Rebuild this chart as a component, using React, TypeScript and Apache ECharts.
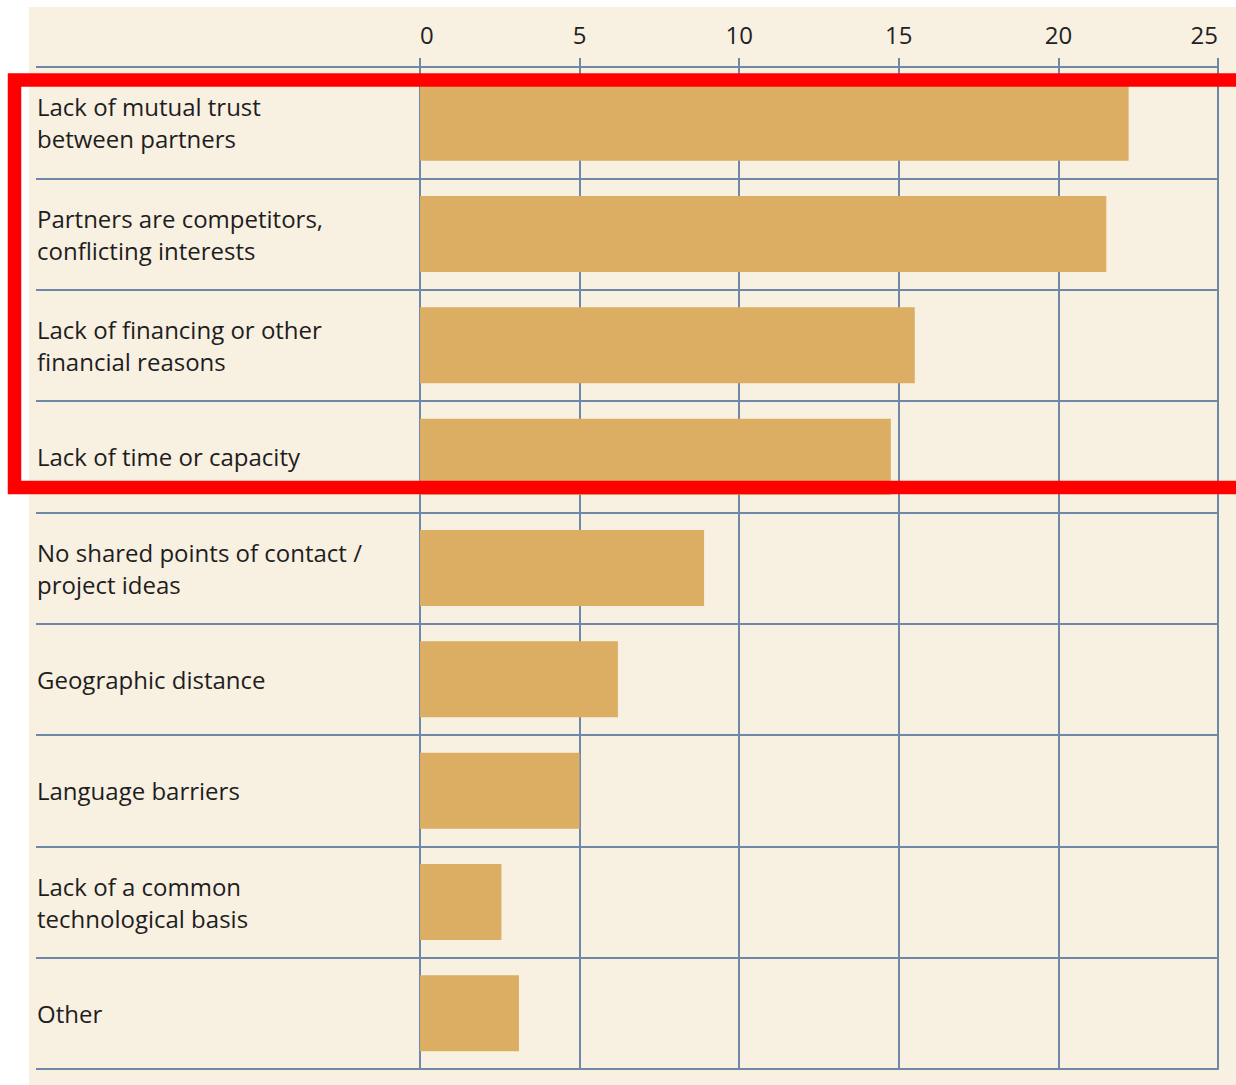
import React, { useEffect, useRef } from "react";
import * as echarts from "echarts";

const categories = [
  "Lack of mutual trust\nbetween partners",
  "Partners are competitors,\nconflicting interests",
  "Lack of financing or other\nfinancial reasons",
  "Lack of time or capacity",
  "No shared points of contact /\nproject ideas",
  "Geographic distance",
  "Language barriers",
  "Lack of a common\ntechnological basis",
  "Other",
];
const values = [22.2, 21.5, 15.5, 14.75, 8.9, 6.2, 5.0, 2.55, 3.1];
const axisMin = 0;
const axisMax = 25;
const axisStep = 5;

const FONT = "'Open Sans', 'Noto Sans', sans-serif";
const GRID_COLOR = "#6f88a8";
const BAR_COLOR = "#dbae63";
const BG = "#f8f0e1";

export default function App() {
  const ref = useRef<HTMLDivElement>(null);
  useEffect(() => {
    if (!ref.current) return;
    const chart = echarts.init(ref.current, undefined, { renderer: "svg" });
    const lineStyle = { color: GRID_COLOR, width: 2 };
    chart.setOption({
      animation: false,
      backgroundColor: "#ffffff",
      graphic: [
        {
          type: "rect",
          z: -10,
          silent: true,
          shape: { x: 29, y: 7, width: 1207, height: 1078 },
          style: { fill: BG },
        },
        {
          type: "rect",
          z: 100,
          silent: true,
          shape: { x: 14.5, y: 80, width: 1300, height: 407.5 },
          style: { fill: "none", stroke: "#ff0000", lineWidth: 13.5 },
        },
      ],
      grid: { left: 420, right: 18, top: 67, bottom: 16, containLabel: false },
      xAxis: [
        {
          type: "value",
          position: "top",
          min: axisMin,
          max: axisMax,
          interval: axisStep,
          axisLine: { show: true, lineStyle },
          axisTick: { show: true, length: 9, lineStyle },
          splitLine: { show: true, lineStyle },
          axisLabel: {
            show: true,
            fontSize: 24,
            fontFamily: FONT,
            color: "#222222",
            margin: 21,
            alignMinLabel: "left",
            alignMaxLabel: "right",
          },
        },
        {
          type: "value",
          position: "bottom",
          min: axisMin,
          max: axisMax,
          interval: axisStep,
          axisLine: { show: true, lineStyle },
          axisTick: { show: false },
          splitLine: { show: false },
          axisLabel: { show: false },
        },
      ],
      yAxis: [
        {
          type: "category",
          inverse: true,
          data: categories,
          axisLine: { show: true, lineStyle },
          axisTick: { show: true, length: 384, lineStyle },
          splitLine: { show: true, lineStyle },
          axisLabel: {
            show: true,
            align: "left",
            margin: 383,
            fontSize: 24,
            lineHeight: 32,
            fontFamily: FONT,
            color: "#1e1e1e",
          },
        },
        {
          type: "category",
          position: "right",
          inverse: true,
          data: categories,
          axisLine: { show: true, lineStyle },
          axisTick: { show: false },
          splitLine: { show: false },
          axisLabel: { show: false },
        },
      ],
      series: [
        {
          type: "bar",
          xAxisIndex: 0,
          yAxisIndex: 0,
          data: values,
          barWidth: 76,
          itemStyle: { color: BAR_COLOR },
        },
      ],
    });
    return () => chart.dispose();
  }, []);
  return (
    <div
      ref={ref}
      style={{ position: "absolute", left: 0, top: 0, width: 1236, height: 1085 }}
    />
  );
}
